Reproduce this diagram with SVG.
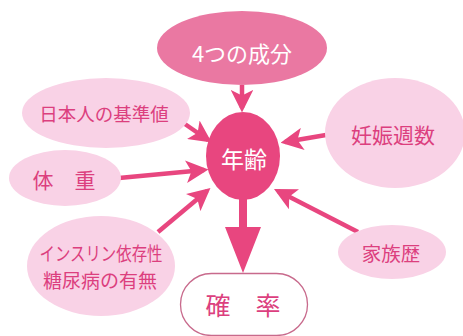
<svg xmlns="http://www.w3.org/2000/svg" width="463" height="336" viewBox="0 0 463 336">
<style>
.lt{fill:#f9d2e6;}
.lbl{fill:#dc3f7e;font-family:"Noto Sans CJK JP","Noto Sans",sans-serif;text-anchor:middle;}
.wt{fill:#fff;font-family:"Noto Sans CJK JP","Noto Sans",sans-serif;text-anchor:middle;}
.ar{stroke:#e8467f;stroke-width:4.5;fill:none;marker-end:url(#ah);}
</style>
<defs>
<marker id="ah" markerWidth="5" markerHeight="5" refX="4" refY="2.5" orient="auto" markerUnits="strokeWidth">
<path d="M0,0 L5,2.5 L0,5 L1.2,2.5 Z" fill="#e8467f"/>
</marker>
</defs>
<rect width="463" height="336" fill="#fff"/>
<g id="connectors">
<line class="ar" x1="242" y1="85" x2="242" y2="108"/>
<line class="ar" x1="182" y1="122" x2="208" y2="140"/>
<line class="ar" x1="326" y1="135" x2="285" y2="142"/>
<line class="ar" x1="119" y1="178" x2="204" y2="170"/>
<line class="ar" x1="158" y1="232" x2="207" y2="191"/>
<line class="ar" x1="358" y1="232" x2="278" y2="191"/>
<path d="M239,198 L247,198 L247,227 L261,227 L243,273 L225,227 L239,227 Z" fill="#e8467f"/>
</g>
<g id="n-seibun">
<ellipse cx="242" cy="48" rx="85" ry="37" fill="#ea78a2"/>
<text class="wt" x="242" y="62" font-size="22">4つの成分</text>
</g>
<g id="n-kijun">
<ellipse class="lt" cx="106" cy="113" rx="84" ry="35"/>
<text class="lbl" x="104" y="121" font-size="18.5">日本人の基準値</text>
</g>
<g id="n-ninshin">
<ellipse class="lt" cx="395" cy="133" rx="70" ry="55"/>
<text class="lbl" x="393" y="143" font-size="21">妊娠週数</text>
</g>
<g id="n-taiju">
<ellipse class="lt" cx="65" cy="178" rx="56" ry="28"/>
<text class="lbl" x="64" y="188" font-size="21">体　重</text>
</g>
<g id="n-insulin">
<ellipse class="lt" cx="101" cy="266" rx="74" ry="50"/>
<text class="lbl" x="101" y="261" font-size="19" textLength="123" lengthAdjust="spacingAndGlyphs">インスリン依存性</text>
<text class="lbl" x="100" y="288" font-size="19">糖尿病の有無</text>
</g>
<g id="n-kazoku">
<ellipse class="lt" cx="392" cy="252" rx="54" ry="27"/>
<text class="lbl" x="391" y="261" font-size="19.5">家族歴</text>
</g>
<g id="n-nenrei">
<ellipse cx="243" cy="156" rx="37" ry="44" fill="#e8467f"/>
<text class="wt" x="244" y="168" font-size="23">年齢</text>
</g>
<g id="n-kakuritsu">
<rect x="180.5" y="273.5" width="127" height="62" rx="31" fill="#fff" stroke="#c86a8c" stroke-width="1.3"/>
<text class="lbl" x="243" y="315" font-size="25">確　率</text>
</g>
</svg>
